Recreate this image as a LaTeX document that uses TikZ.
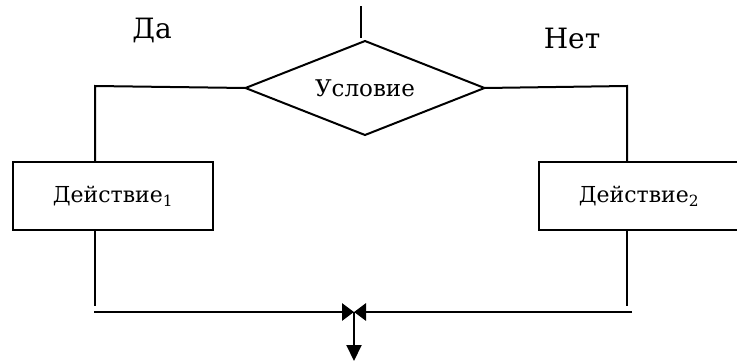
\documentclass[tikz,border=0pt]{standalone}
\usepackage{fontspec}
\setmainfont{DejaVu Serif}
\newfontfamily\labelfont{DejaVu Serif}
\usetikzlibrary{shapes.geometric,arrows.meta}
\tikzset{
  flow/.style={line width=2pt, line cap=butt},
  decision/.style={diamond, draw, line width=2pt, inner sep=0pt, outer sep=0pt,
    aspect=2.54, minimum width=239pt, minimum height=94pt,
    font=\labelfont\fontsize{23}{26}\selectfont},
  actionbox/.style={rectangle, draw, line width=2pt, inner sep=0pt, outer sep=0pt,
    minimum width=200pt, minimum height=68pt,
    font=\labelfont\fontsize{22}{26}\selectfont},
  branchlabel/.style={inner sep=0pt, anchor=base,
    font=\labelfont\fontsize{28}{32}\selectfont},
  mergetip/.style={-{Triangle[length=12pt,width=17pt]}},
  outtip/.style={-{Triangle[length=16pt,width=15pt]}}
}
\begin{document}
\begin{tikzpicture}[x=1pt,y=-1pt]
  \useasboundingbox (0,0) rectangle (737,364);
  \clip (0,0) rectangle (737,364);

  % condition and the two actions
  \node[decision] (cond) at (365,88) {Условие};
  \node[actionbox] (act1) at (113,196) {Действие\textsubscript{1}};
  \node[actionbox] (act2) at (639,196) {Действие\textsubscript{2}};

  % branch labels
  \node[branchlabel] (yes) at (152,38) {Да};
  \node[branchlabel] (no) at (572,48) {Нет};

  % entry line
  \coordinate (entry) at (361,6);
  \draw[flow, shorten >=3pt] (entry) -- (entry |- cond.north);

  % branches down to the actions
  \coordinate (lcorner) at (95,86);
  \coordinate (rcorner) at (627,86);
  \draw[flow] (cond.west) -- (lcorner) -- (lcorner |- act1.north);
  \draw[flow] (cond.east) -- (rcorner) -- (rcorner |- act2.north);

  % lines below the actions
  \coordinate (lend) at (95,306);
  \coordinate (rend) at (627,306);
  \draw[flow] (lcorner |- act1.south) -- (lend);
  \draw[flow] (rcorner |- act2.south) -- (rend);

  % merge line with inward arrows and the exit
  \coordinate (mleft) at (94,312);
  \coordinate (mright) at (632,312);
  \coordinate (merge) at (354,312);
  \coordinate (exit) at (354,361);
  \draw[flow, line width=2.8pt, mergetip] (mleft) -- (merge);
  \draw[flow, line width=2.8pt, mergetip] (mright) -- (merge);
  \draw[flow, outtip] (merge) -- (exit);
\end{tikzpicture}
\end{document}
